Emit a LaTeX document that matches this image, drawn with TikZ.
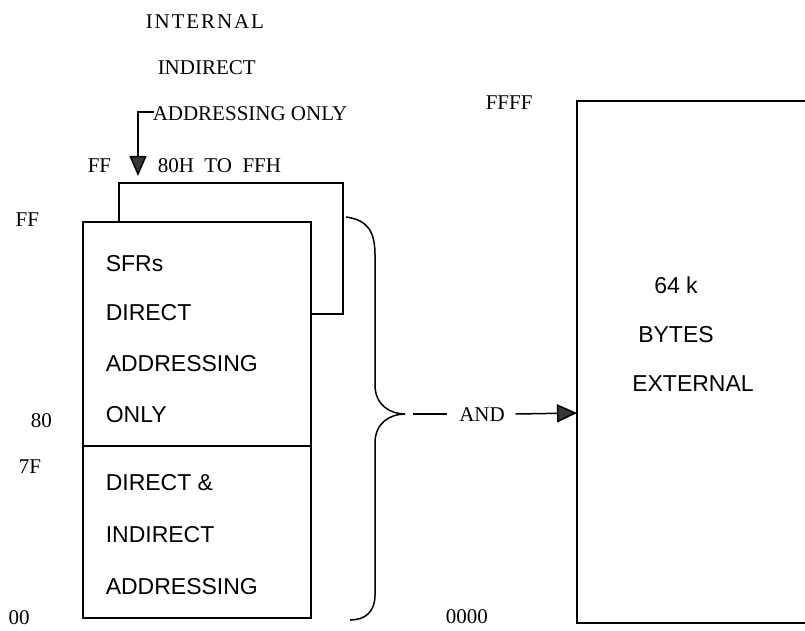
\documentclass[tikz,border=0pt]{standalone}
\usepackage{fontspec}
\setmainfont{Liberation Serif}
\newfontfamily\boxfont{Liberation Sans}
\usetikzlibrary{arrows.meta}
\definecolor{tipgray}{RGB}{55,55,55}
\begin{document}
\begin{tikzpicture}[x=1pt,y=-1pt,
  line width=1.5pt,
  lbl/.style={anchor=base west,inner sep=0pt,font=\fontsize{21}{25}\selectfont},
  btxt/.style={anchor=base west,inner sep=0pt,font=\boxfont\fontsize{23}{27}\selectfont},
  ctxt/.style={anchor=base,inner sep=0pt,font=\boxfont\fontsize{23}{27}\selectfont},
  filltip/.style={-{Triangle[length=20pt,width=17pt,fill=tipgray]}}
]
\useasboundingbox (0,0) rectangle (805,631);
% top labels
\node[lbl] (internal) at (145,29) {I\kern1.9pt N\kern1.9pt T\kern1.9pt E\kern1.9pt R\kern1.9pt N\kern1.9pt A\kern1.9pt L};
\node[lbl] (indirect) at (157,75) {INDIRECT};
\node[lbl] (addronly) at (152,121) {ADDRESSING ONLY};
\node[lbl] (ffa) at (87,173) {FF};
\node[lbl] (range) at (157,173) {80H\ \ TO\ \ FFH};
\coordinate (bend) at (138,112);
\coordinate (downtip) at (138,176);
\draw[filltip] (addronly.west |- bend) ++(2,0) -- (bend) -- (downtip);
% address labels
\node[lbl] (ffb) at (15,226) {FF};
\node[lbl] (a80) at (30,427) {80};
\node[lbl] (a7f) at (18,473) {7F};
\node[lbl] (a00) at (8,624) {00};
\node[lbl] (affff) at (485,110) {FFFF};
\node[lbl] (a0000) at (445,623) {0000};
% back rectangle
\draw[fill=white] (119,314) |- (343,183) |- (300,314);
% front rectangle
\draw[fill=white] (83,222) rectangle (311,618);
\draw (83,446) -- (311,446);
\node[btxt] (t1) at (105,271) {SFRs};
\node[btxt] (t2) at (105,320) {DIRECT};
\node[btxt] (t3) at (105,371) {ADDRESSING};
\node[btxt] (t4) at (105,422) {ONLY};
\node[btxt] (t5) at (105,490) {DIRECT \&};
\node[btxt] (t6) at (105,542) {INDIRECT};
\node[btxt] (t7) at (105,594) {ADDRESSING};
% brace
\coordinate (bracetip) at (405,414);
\draw (346,217) .. controls (368,220) and (375,232) .. (375,255) -- (375,385)
  .. controls (375,405) and (390,414) .. (bracetip)
  .. controls (390,414) and (375,423) .. (375,443) -- (375,595)
  .. controls (375,612) and (365,620) .. (350,620);
% AND
\node[anchor=base,inner sep=0pt,font=\fontsize{21}{25}\selectfont] (and) at (482,421) {AND};
\draw ([xshift=8pt]bracetip) -- ([xshift=-12pt]and.west |- bracetip);
\coordinate (exttarget) at (577,413);
\draw[-{Triangle[length=20pt,width=18pt,fill=tipgray]}] ([xshift=10pt]and.east |- bracetip) -- (exttarget);
% external memory
\draw (806,101) -- (577,101) -- (577,623) -- (806,623);
\node[ctxt] (e1) at (676,293) {64 k};
\node[ctxt] (e2) at (676,342) {BYTES};
\node[ctxt] (e3) at (693,391) {EXTERNAL};
\end{tikzpicture}
\end{document}
